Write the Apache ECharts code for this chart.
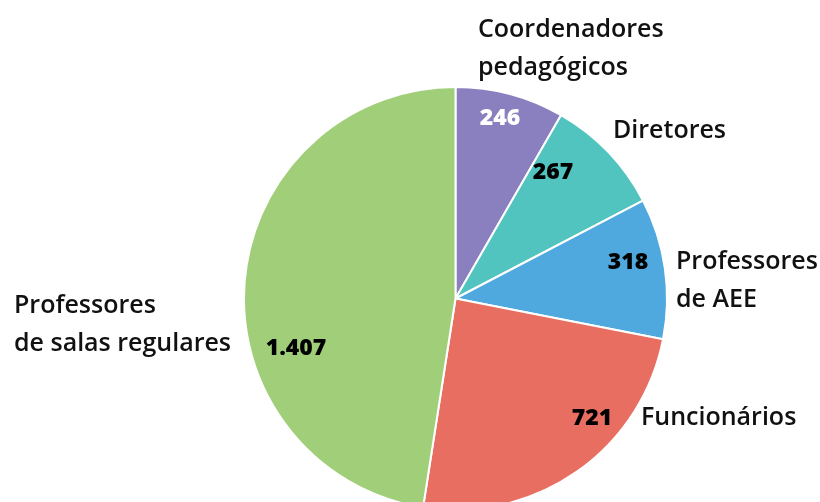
<!DOCTYPE html>
<html>
<head>
<meta charset="utf-8">
<script src="https://cdn.jsdelivr.net/npm/echarts@6/dist/echarts.min.js"></script>
<style>html,body{margin:0;padding:0;background:#fff}#c{width:820px;height:502px}</style>
</head>
<body>
<div id="c"></div>
<script>
var categories = ['Coordenadores\npedagógicos', 'Diretores', 'Professores\nde AEE', 'Funcionários', 'Professores\nde salas regulares'];
var values = [246, 267, 318, 721, 1407];
var colors = ['#8a80bf', '#52c4bf', '#4fa8de', '#e86e62', '#a1cf79'];
var valueColors = ['#ffffff', '#000000', '#000000', '#000000', '#000000'];

// label placement (layout only)
var nameLayout = [
  {x: 478, y: 49, align: 'left'},
  {x: 613, y: 131, align: 'left'},
  {x: 676, y: 281, align: 'left'},
  {x: 641, y: 418, align: 'left'},
  {x: 14, y: 325, align: 'left'}
];
var valueLayout = [
  {x: 500, y: 118}, {x: 553, y: 172}, {x: 628, y: 262}, {x: 592, y: 418}, {x: 296, y: 348}
];

function fmt(v) { return String(v).replace(/\B(?=(\d{3})+(?!\d))/g, '.'); }

var data = categories.map(function (c, i) {
  return { name: c, value: values[i], itemStyle: { color: colors[i] } };
});

var chart = echarts.init(document.getElementById('c'), null, { renderer: 'canvas' });
chart.setOption({
  animation: false,
  series: [
    {
      type: 'pie',
      center: [455.5, 298.5],
      radius: [0, 211.5],
      startAngle: 90,
      clockwise: true,
      silent: true,
      itemStyle: { borderColor: '#ffffff', borderWidth: 2 },
      label: {
        show: true,
        position: 'outside',
        alignTo: 'none',
        overflow: 'none',
        formatter: '{b}',
        fontFamily: 'Open Sans',
        fontWeight: 600,
        fontSize: 25,
        lineHeight: 38,
        color: '#111111'
      },
      labelLine: { show: false },
      labelLayout: function (p) {
        var l = nameLayout[p.dataIndex];
        return { x: l.x, y: l.y, align: l.align, verticalAlign: 'middle', hideOverlap: false, width: 400 };
      },
      data: data
    },
    {
      type: 'pie',
      center: [455.5, 298.5],
      radius: [0, 211.5],
      startAngle: 90,
      clockwise: true,
      silent: true,
      itemStyle: { color: 'transparent', borderWidth: 0 },
      label: {
        show: true,
        position: 'inside',
        formatter: function (p) { return fmt(p.value); },
        fontFamily: 'Open Sans',
        fontWeight: 800,
        fontSize: 23,
        color: '#000'
      },
      labelLine: { show: false },
      labelLayout: function (p) {
        var l = valueLayout[p.dataIndex];
        return { x: l.x, y: l.y, align: 'center', verticalAlign: 'middle' };
      },
      data: values.map(function (v, i) {
        return { name: categories[i], value: v, itemStyle: { color: 'rgba(0,0,0,0)' }, label: { color: valueColors[i] } };
      })
    }
  ]
});
</script>
</body>
</html>
